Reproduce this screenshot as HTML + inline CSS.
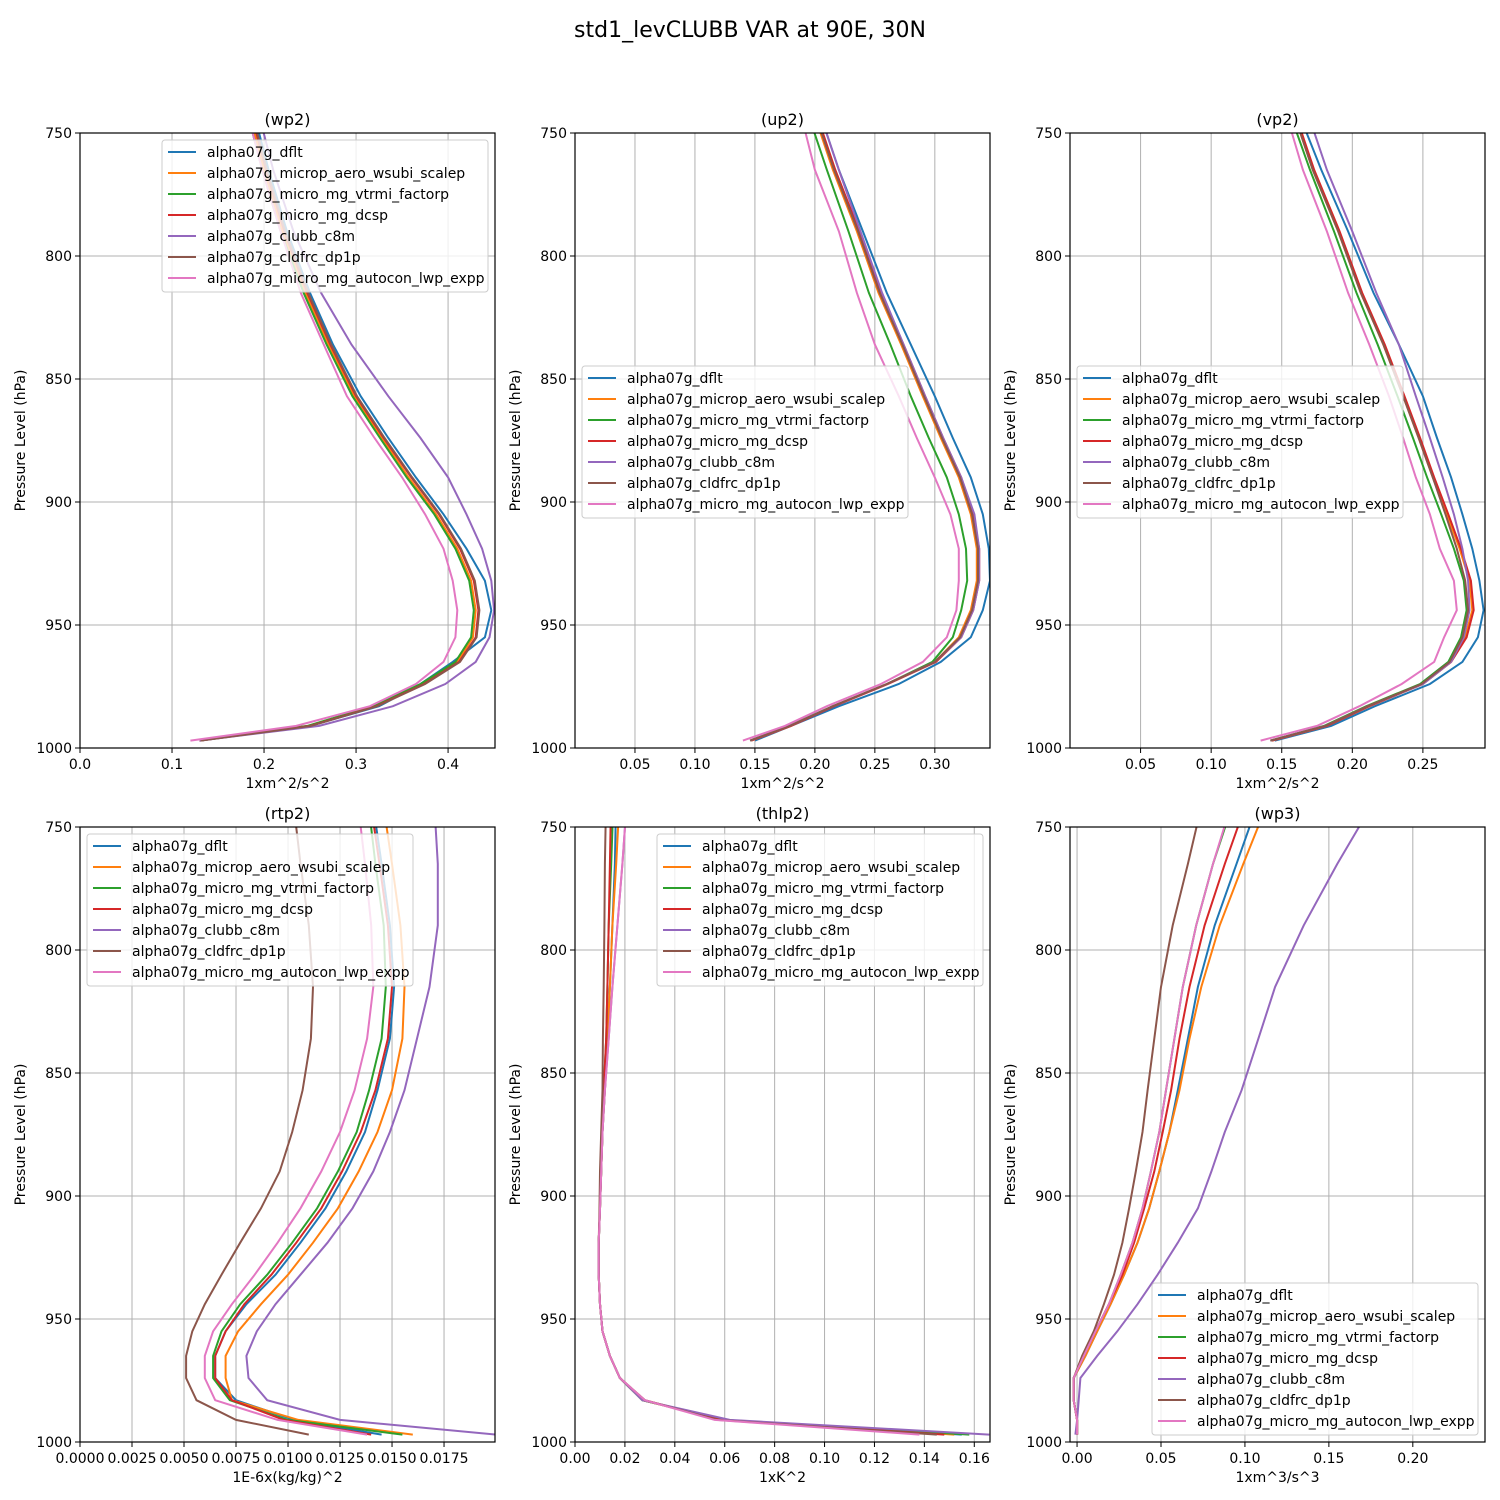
<!DOCTYPE html>
<html><head><meta charset="utf-8"><style>
body{margin:0;background:#fff}
svg{display:block;font-family:"DejaVu Sans","Liberation Sans",sans-serif}
</style></head><body>
<svg id="fig" width="1500" height="1500" viewBox="0 0 1500 1500" xmlns="http://www.w3.org/2000/svg">
<rect width="1500" height="1500" fill="#fff"/>
<text x="750" y="37" font-size="22" text-anchor="middle">std1_levCLUBB VAR at 90E, 30N</text>
</svg>
<script>
const levels=[736,765,790,815,836,857,874,890,905,919,932,944,955,965,974,983,991,997];
const seriesNames=["alpha07g_dflt","alpha07g_microp_aero_wsubi_scalep","alpha07g_micro_mg_vtrmi_factorp","alpha07g_micro_mg_dcsp","alpha07g_clubb_c8m","alpha07g_cldfrc_dp1p","alpha07g_micro_mg_autocon_lwp_expp"];
const colors=["#1f77b4","#ff7f0e","#2ca02c","#d62728","#9467bd","#8c564b","#e377c2"];
const yTicks=[750,800,850,900,950,1000];

const wp2_dflt=[0.185,0.205,0.225,0.25,0.275,0.305,0.335,0.365,0.395,0.42,0.44,0.447,0.44,0.405,0.37,0.325,0.25,0.13];
const wp2_microp=[0.18,0.2,0.22,0.245,0.27,0.298,0.328,0.357,0.387,0.41,0.425,0.43,0.427,0.41,0.372,0.32,0.248,0.13];
const wp2_vtrmi=[0.178,0.198,0.218,0.243,0.268,0.296,0.326,0.355,0.385,0.408,0.423,0.428,0.425,0.408,0.37,0.318,0.247,0.13];
const wp2_dcsp=[0.182,0.202,0.222,0.247,0.272,0.3,0.33,0.36,0.39,0.413,0.428,0.433,0.43,0.412,0.374,0.322,0.25,0.13];
const wp2_c8m=[0.19,0.21,0.232,0.262,0.295,0.335,0.37,0.4,0.42,0.437,0.447,0.45,0.445,0.43,0.397,0.34,0.26,0.13];
const wp2_dp1p=[0.183,0.203,0.223,0.248,0.273,0.301,0.331,0.361,0.391,0.414,0.429,0.434,0.431,0.413,0.375,0.323,0.251,0.131];
const wp2_autocon=[0.178,0.198,0.218,0.24,0.265,0.29,0.32,0.35,0.375,0.395,0.405,0.41,0.408,0.395,0.365,0.315,0.235,0.12];

const up2_dflt=[0.2,0.22,0.24,0.26,0.28,0.3,0.315,0.33,0.34,0.345,0.346,0.34,0.33,0.305,0.27,0.22,0.18,0.15];
const up2_microp=[0.195,0.215,0.235,0.253,0.272,0.29,0.305,0.32,0.33,0.335,0.335,0.33,0.32,0.3,0.26,0.215,0.18,0.147];
const up2_vtrmi=[0.19,0.21,0.228,0.245,0.263,0.28,0.295,0.31,0.32,0.326,0.327,0.322,0.315,0.298,0.26,0.215,0.178,0.146];
const up2_dcsp=[0.197,0.217,0.237,0.255,0.274,0.292,0.307,0.322,0.332,0.337,0.337,0.332,0.322,0.301,0.261,0.216,0.18,0.147];
const up2_c8m=[0.2,0.22,0.238,0.256,0.274,0.292,0.307,0.322,0.333,0.337,0.337,0.332,0.322,0.3,0.26,0.215,0.179,0.146];
const up2_dp1p=[0.196,0.216,0.236,0.254,0.273,0.291,0.306,0.321,0.331,0.336,0.336,0.331,0.321,0.3,0.26,0.215,0.179,0.146];
const up2_autocon=[0.185,0.2,0.22,0.235,0.25,0.27,0.285,0.3,0.313,0.32,0.32,0.318,0.31,0.29,0.255,0.21,0.175,0.14];

const vp2_dflt=[0.158,0.178,0.197,0.215,0.233,0.25,0.26,0.27,0.278,0.285,0.29,0.293,0.289,0.278,0.255,0.216,0.185,0.145];
const vp2_microp=[0.155,0.172,0.19,0.206,0.222,0.236,0.247,0.257,0.267,0.276,0.283,0.285,0.28,0.27,0.25,0.212,0.182,0.143];
const vp2_vtrmi=[0.152,0.17,0.187,0.203,0.218,0.232,0.243,0.253,0.263,0.272,0.279,0.281,0.277,0.268,0.248,0.21,0.18,0.142];
const vp2_dcsp=[0.156,0.173,0.191,0.207,0.223,0.237,0.248,0.258,0.268,0.277,0.284,0.286,0.281,0.27,0.25,0.212,0.182,0.143];
const vp2_c8m=[0.165,0.182,0.2,0.217,0.233,0.245,0.255,0.264,0.272,0.278,0.282,0.283,0.279,0.27,0.25,0.211,0.181,0.142];
const vp2_dp1p=[0.155,0.172,0.19,0.206,0.222,0.236,0.247,0.257,0.266,0.274,0.28,0.282,0.278,0.269,0.249,0.211,0.181,0.142];
const vp2_autocon=[0.15,0.165,0.182,0.197,0.212,0.226,0.236,0.245,0.255,0.262,0.272,0.274,0.265,0.258,0.235,0.205,0.175,0.135];

const rtp2_dflt=[0.0140,0.0145,0.0149,0.0151,0.0149,0.0143,0.0137,0.0128,0.0118,0.0106,0.0094,0.0080,0.0070,0.0065,0.0065,0.0075,0.0103,0.0145];
const rtp2_microp=[0.0145,0.0150,0.0154,0.0156,0.0155,0.0150,0.0143,0.0134,0.0124,0.0112,0.0100,0.0087,0.0076,0.0070,0.0070,0.0073,0.0105,0.0160];
const rtp2_vtrmi=[0.0138,0.0142,0.0146,0.0147,0.0145,0.0139,0.0133,0.0124,0.0114,0.0102,0.0090,0.0077,0.0068,0.0064,0.0064,0.0072,0.0100,0.0155];
const rtp2_dcsp=[0.0139,0.0144,0.0148,0.0150,0.0148,0.0142,0.0135,0.0126,0.0116,0.0104,0.0092,0.0079,0.0070,0.0065,0.0065,0.0073,0.0098,0.0140];
const rtp2_c8m=[0.0170,0.0172,0.0172,0.0168,0.0162,0.0156,0.0149,0.0141,0.0131,0.0119,0.0106,0.0094,0.0085,0.0080,0.0081,0.0090,0.0125,0.0200];
const rtp2_dp1p=[0.0102,0.0106,0.0110,0.0112,0.0111,0.0107,0.0102,0.0096,0.0087,0.0077,0.0068,0.0060,0.0054,0.0051,0.0051,0.0056,0.0075,0.0110];
const rtp2_autocon=[0.0133,0.0137,0.0140,0.0141,0.0138,0.0132,0.0125,0.0116,0.0106,0.0095,0.0084,0.0073,0.0064,0.0060,0.0060,0.0065,0.0095,0.0138];

const thlp2_dflt=[0.0165,0.016,0.015,0.014,0.013,0.012,0.011,0.0105,0.010,0.0095,0.0095,0.010,0.011,0.014,0.018,0.027,0.060,0.155];
const thlp2_microp=[0.018,0.0165,0.015,0.014,0.013,0.012,0.011,0.0105,0.010,0.0095,0.0095,0.010,0.011,0.014,0.018,0.027,0.059,0.152];
const thlp2_vtrmi=[0.0155,0.0145,0.0135,0.013,0.0125,0.0115,0.011,0.0105,0.010,0.0095,0.0095,0.010,0.011,0.014,0.018,0.027,0.060,0.158];
const thlp2_dcsp=[0.0145,0.014,0.0135,0.013,0.0125,0.0115,0.011,0.0105,0.010,0.0095,0.0095,0.010,0.011,0.014,0.018,0.028,0.058,0.148];
const thlp2_c8m=[0.021,0.019,0.017,0.015,0.0135,0.012,0.011,0.0105,0.010,0.0095,0.0095,0.010,0.011,0.014,0.018,0.027,0.062,0.166];
const thlp2_dp1p=[0.0125,0.012,0.0118,0.0115,0.0112,0.011,0.0105,0.010,0.0098,0.0095,0.0095,0.010,0.011,0.014,0.018,0.028,0.057,0.145];
const thlp2_autocon=[0.021,0.019,0.017,0.015,0.0135,0.012,0.011,0.0105,0.010,0.0095,0.0095,0.010,0.011,0.014,0.018,0.028,0.056,0.138];

const wp3_dflt=[0.110,0.095,0.082,0.072,0.066,0.060,0.055,0.049,0.043,0.036,0.028,0.020,0.012,0.005,-0.002,-0.002,0.0,0.0];
const wp3_microp=[0.116,0.099,0.085,0.074,0.067,0.061,0.055,0.049,0.043,0.036,0.028,0.020,0.012,0.005,-0.002,-0.002,0.0,0.0];
const wp3_vtrmi=[0.095,0.081,0.071,0.063,0.058,0.053,0.049,0.044,0.039,0.033,0.026,0.019,0.011,0.004,-0.002,-0.002,0.0,0.0];
const wp3_dcsp=[0.103,0.088,0.076,0.067,0.061,0.056,0.051,0.046,0.040,0.034,0.027,0.019,0.011,0.004,-0.002,-0.002,0.0,0.0];
const wp3_c8m=[0.180,0.155,0.135,0.118,0.108,0.098,0.088,0.080,0.072,0.060,0.048,0.036,0.024,0.012,0.002,0.001,0.0,-0.001];
const wp3_dp1p=[0.076,0.066,0.057,0.050,0.046,0.042,0.039,0.035,0.031,0.027,0.022,0.016,0.010,0.003,-0.002,-0.002,0.0,0.0];
const wp3_autocon=[0.094,0.081,0.071,0.063,0.058,0.053,0.049,0.044,0.039,0.033,0.026,0.019,0.011,0.004,-0.002,-0.002,0.0,0.0];

const panels=[
 {id:"wp2",title:"(wp2)",xl:"1xm^2/s^2",x0:80,y0:133,xmin:0,xmax:0.451,ticks:[0,0.1,0.2,0.3,0.4],tl:["0.0","0.1","0.2","0.3","0.4"],series:[wp2_dflt,wp2_microp,wp2_vtrmi,wp2_dcsp,wp2_c8m,wp2_dp1p,wp2_autocon],lg:[162,140]},
 {id:"up2",title:"(up2)",xl:"1xm^2/s^2",x0:575,y0:133,xmin:0,xmax:0.346,ticks:[0.05,0.1,0.15,0.2,0.25,0.3],tl:["0.05","0.10","0.15","0.20","0.25","0.30"],series:[up2_dflt,up2_microp,up2_vtrmi,up2_dcsp,up2_c8m,up2_dp1p,up2_autocon],lg:[582,366]},
 {id:"vp2",title:"(vp2)",xl:"1xm^2/s^2",x0:1070,y0:133,xmin:0,xmax:0.294,ticks:[0.05,0.1,0.15,0.2,0.25],tl:["0.05","0.10","0.15","0.20","0.25"],series:[vp2_dflt,vp2_microp,vp2_vtrmi,vp2_dcsp,vp2_c8m,vp2_dp1p,vp2_autocon],lg:[1077,366]},
 {id:"rtp2",title:"(rtp2)",xl:"1E-6x(kg/kg)^2",x0:80,y0:827,xmin:0,xmax:0.01995,ticks:[0,0.0025,0.005,0.0075,0.01,0.0125,0.015,0.0175],tl:["0.0000","0.0025","0.0050","0.0075","0.0100","0.0125","0.0150","0.0175"],series:[rtp2_dflt,rtp2_microp,rtp2_vtrmi,rtp2_dcsp,rtp2_c8m,rtp2_dp1p,rtp2_autocon],lg:[87,834]},
 {id:"thlp2",title:"(thlp2)",xl:"1xK^2",x0:575,y0:827,xmin:0,xmax:0.1663,ticks:[0,0.02,0.04,0.06,0.08,0.1,0.12,0.14,0.16],tl:["0.00","0.02","0.04","0.06","0.08","0.10","0.12","0.14","0.16"],series:[thlp2_dflt,thlp2_microp,thlp2_vtrmi,thlp2_dcsp,thlp2_c8m,thlp2_dp1p,thlp2_autocon],lg:[657,834]},
 {id:"wp3",title:"(wp3)",xl:"1xm^3/s^3",x0:1070,y0:827,xmin:-0.0042,xmax:0.243,ticks:[0,0.05,0.1,0.15,0.2],tl:["0.00","0.05","0.10","0.15","0.20"],series:[wp3_dflt,wp3_microp,wp3_vtrmi,wp3_dcsp,wp3_c8m,wp3_dp1p,wp3_autocon],lg:[1152,1283]}
];
const W=415,H=615,NS="http://www.w3.org/2000/svg";
const fig=document.getElementById("fig");
function mk(tag,attrs,parent){const e=document.createElementNS(NS,tag);for(const k in attrs)e.setAttribute(k,attrs[k]);(parent||fig).appendChild(e);return e;}
panels.forEach(p=>{
 const g=mk("g",{});
 
 
 const sx=v=>p.x0+(v-p.xmin)/(p.xmax-p.xmin)*W;
 const sy=v=>p.y0+(v-750)/250*H;
 const cid="clip-"+p.id;
 const cp=mk("clipPath",{id:cid},g);mk("rect",{x:p.x0,y:p.y0,width:W,height:H},cp);
 p.ticks.forEach((t,i)=>{
  const x=sx(t);
  const gl=mk("line",{x1:x,x2:x,y1:p.y0,y2:p.y0+H,stroke:"#b0b0b0","stroke-width":1},g);
  
  
  mk("line",{x1:x,x2:x,y1:p.y0+H,y2:p.y0+H+5,stroke:"#000","stroke-width":1},g);
  const tx=mk("text",{x:x,y:p.y0+H+21,"font-size":14,"text-anchor":"middle"},g);tx.textContent=p.tl[i];
  
  
 });
 yTicks.forEach(t=>{
  const y=sy(t);
  const gl=mk("line",{x1:p.x0,x2:p.x0+W,y1:y,y2:y,stroke:"#b0b0b0","stroke-width":1},g);
  
  
  mk("line",{x1:p.x0-5,x2:p.x0,y1:y,y2:y,stroke:"#000","stroke-width":1},g);
  const tx=mk("text",{x:p.x0-8,y:y+5,"font-size":14,"text-anchor":"end"},g);tx.textContent=t;
  
  
 });
 const lg=mk("g",{"clip-path":"url(#"+cid+")"},g);
 p.series.forEach((s,i)=>{
  const d=s.map((v,j)=>(j?"L":"M")+sx(v).toFixed(1)+","+sy(levels[j]).toFixed(1)).join("");
  const pa=mk("path",{d:d,fill:"none",stroke:colors[i],"stroke-width":2},lg);
  
  
 });
 const fr=mk("rect",{x:p.x0,y:p.y0,width:W,height:H,fill:"none",stroke:"#000","stroke-width":1.2},g);
 
 
 const ti=mk("text",{x:p.x0+W/2,y:p.y0-8,"font-size":16,"text-anchor":"middle"},g);ti.textContent=p.title;
 
 
 const xl=mk("text",{x:p.x0+W/2,y:p.y0+H+40,"font-size":14,"text-anchor":"middle"},g);xl.textContent=p.xl;
 
 
 const yl=mk("text",{x:0,y:0,"font-size":14,"text-anchor":"middle",transform:"translate("+(p.x0-55)+","+(p.y0+H/2)+") rotate(-90)"},g);yl.textContent="Pressure Level (hPa)";
 
 
 const L=mk("g",{},g);
 
 
 const lx=p.lg[0],ly=p.lg[1];
 mk("rect",{x:lx,y:ly,width:326,height:152,rx:3,fill:"#fff","fill-opacity":0.8,stroke:"#ccc","stroke-width":1},L);
 seriesNames.forEach((n,i)=>{
  const y=ly+12+i*21;
  const e=mk("g",{},L);
  
  
  mk("line",{x1:lx+6,x2:lx+34,y1:y,y2:y,stroke:colors[i],"stroke-width":2},e);
  const t=mk("text",{x:lx+45,y:y+5,"font-size":14},e);t.textContent=n;
 });
});
</script>
</body></html>
